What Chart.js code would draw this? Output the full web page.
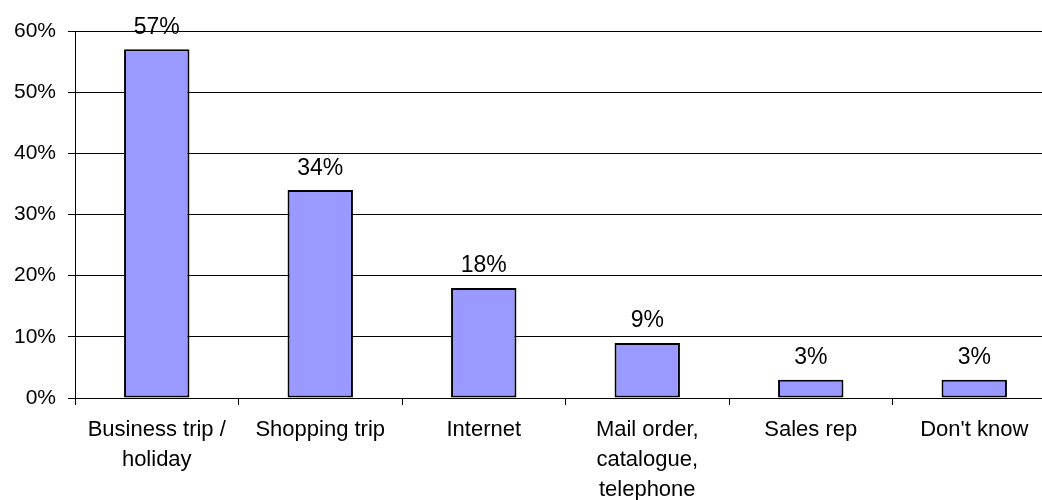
<!DOCTYPE html>
<html>
<head>
<meta charset="utf-8">
<script src="https://cdn.jsdelivr.net/npm/chart.js@4/dist/chart.umd.min.js"></script>
<style>
  html, body { margin: 0; padding: 0; background: #fff; overflow: hidden; }
  #wrap { width: 1056px; height: 500px; }
</style>
</head>
<body>
<div id="wrap"><canvas id="c" width="1056" height="500"></canvas></div>
<script>
const categories = [
  ["Business trip /", "holiday"],
  ["Shopping trip"],
  ["Internet"],
  ["Mail order,", "catalogue,", "telephone"],
  ["Sales rep"],
  ["Don't know"]
];
const values = [57, 34, 18, 9, 3, 3];
const yTicks = [0, 10, 20, 30, 40, 50, 60];

const FONT = "'Liberation Sans', Arial, sans-serif";

const barLabels = {
  id: 'barLabels',
  afterDatasetsDraw(chart) {
    const ctx = chart.ctx;
    const meta = chart.getDatasetMeta(0);
    ctx.save();
    ctx.font = "23px " + FONT;
    ctx.fillStyle = "#000";
    ctx.textAlign = "center";
    ctx.textBaseline = "alphabetic";
    meta.data.forEach((bar, i) => {
      ctx.fillText(values[i] + "%", bar.x, bar.y - 15.5);
    });
    ctx.restore();
  }
};

new Chart(document.getElementById('c'), {
  type: 'bar',
  data: {
    labels: categories,
    datasets: [{
      data: values,
      backgroundColor: '#9999FF',
      borderColor: '#000',
      borderWidth: 2,
      borderSkipped: false,
      categoryPercentage: 1,
      barPercentage: 0.4
    }]
  },
  options: {
    responsive: false,
    animation: false,
    devicePixelRatio: 1,
    layout: { padding: { top: 31, right: 0, bottom: 0, left: 0 } },
    plugins: { legend: { display: false }, tooltip: { enabled: false } },
    scales: {
      x: {
        grid: { display: true, drawOnChartArea: false, drawTicks: true, tickLength: 7, color: '#000', offset: true },
        border: { display: true, color: '#000', width: 1 },
        ticks: { color: '#000', font: { family: FONT, size: 22, lineHeight: 1.37 }, padding: 10, maxRotation: 0, autoSkip: false },
        afterFit(scale) { scale.height = 102; }
      },
      y: {
        min: 0, max: 60,
        afterBuildTicks(scale) { scale.ticks = yTicks.map(v => ({ value: v })); },
        grid: { color: '#000', lineWidth: 1, tickLength: 7 },
        border: { display: true, color: '#000', width: 1 },
        ticks: { color: '#000', font: { family: FONT, size: 21 }, padding: 12, callback: v => v + '%' },
        afterFit(scale) { scale.width = 75; }
      }
    }
  },
  plugins: [barLabels]
});
</script>
</body>
</html>
